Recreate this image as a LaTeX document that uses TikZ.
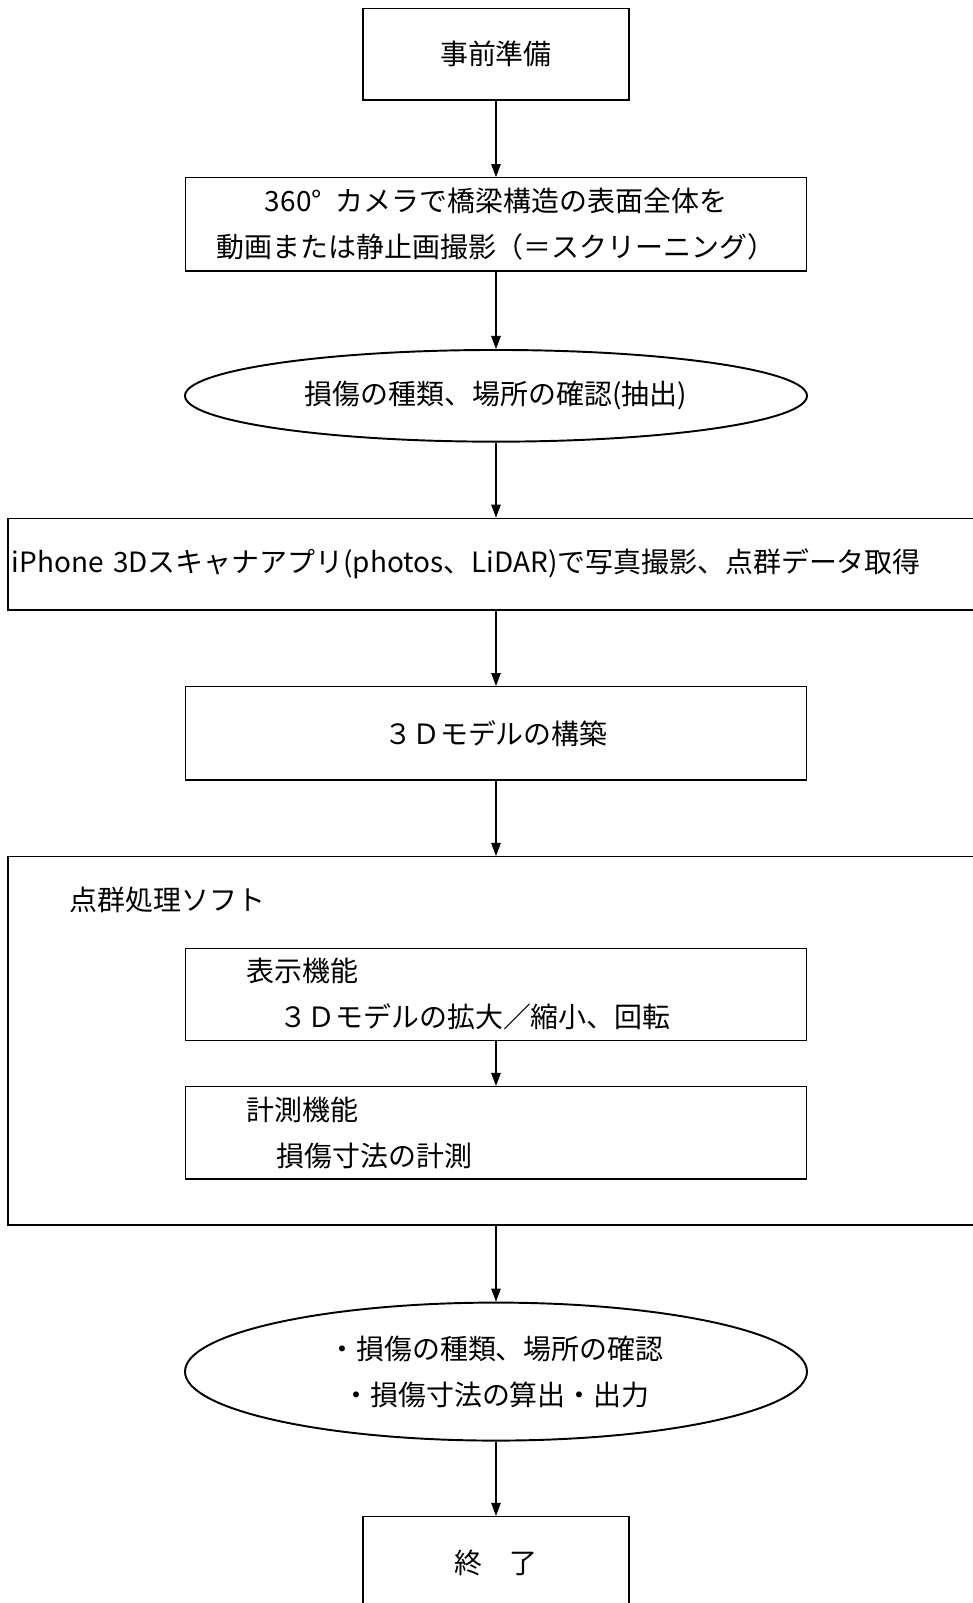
\documentclass[tikz,border=0pt]{standalone}
\usepackage{fontspec}
\setmainfont{Noto Sans CJK JP}
\usepackage{tikz}
\usetikzlibrary{arrows.meta, positioning, shapes.geometric}
\newcommand{\flowfont}{\fontsize{15.9pt}{26.2pt}\selectfont}
\tikzset{
    stepbox/.style={draw, line width=0.7pt, minimum width=12.42cm, minimum height=1.84cm, align=center, font=\flowfont},
    endbox/.style={stepbox, minimum width=5.32cm},
    widebox/.style={draw, line width=0.7pt, minimum width=19.52cm, minimum height=1.834cm, inner xsep=0.08cm, text width=19.36cm, align=left, font=\flowfont},
    funcbox/.style={draw, line width=0.7pt, minimum width=12.42cm, minimum height=1.848cm, inner xsep=1.22cm, text width=9.98cm, align=left, font=\flowfont},
    checkell/.style={draw, ellipse, line width=1.1pt, minimum width=12.44cm, align=center, font=\flowfont},
    flowarrow/.style={-{Triangle[length=7.4pt, width=5.4pt]}, line width=0.6pt},
}

\begin{document}
\begin{tikzpicture}[node distance=1.5cm]

\useasboundingbox (-9.92,1.083) rectangle (9.54,-30.977);

% ============================================================
% survey
% ============================================================
\node[endbox, minimum height=1.834cm] (prep) at (0, 0) {事前準備};

\node[stepbox, below=1.529cm of prep, minimum height=1.866cm] (cam) {360°\hspace{0.5em}カメラで橋梁構造の表面全体を\\動画または静止画撮影（＝スクリーニング）};

\node[checkell, below=1.548cm of cam, minimum height=1.834cm] (check) {損傷の種類、場所の確認(抽出)};

\node[widebox, below=1.5cm of check] (scan) {iPhone 3Dスキャナアプリ(photos、LiDAR)で写真撮影、点群データ取得};

\node[stepbox, below=1.509cm of scan, minimum height=1.866cm] (model) {３Ｄモデルの構築};

\draw[flowarrow] (prep) -- (cam);
\draw[flowarrow] (cam) -- (check);
\draw[flowarrow] (check) -- (scan);
\draw[flowarrow] (scan) -- (model);

% ============================================================
% point cloud software
% ============================================================
\node[draw, line width=0.7pt, minimum width=19.52cm, minimum height=7.366cm, below=1.509cm of model] (soft) {};
\node[font=\flowfont, anchor=west, inner sep=0pt] (softlabel) at ([xshift=1.24cm, yshift=-0.88cm]soft.north west) {点群処理ソフト};

\node[funcbox, below=1.832cm of soft.north] (disp) {表示機能\\\hspace{0.66cm}３Ｄモデルの拡大／縮小、回転};
\node[funcbox, below=0.895cm of disp] (meas) {計測機能\\\hspace{0.6cm}損傷寸法の計測};

\draw[flowarrow] (model) -- (soft);
\draw[flowarrow] (disp) -- (meas);

% ============================================================
% output
% ============================================================
\node[checkell, below=1.522cm of soft, minimum height=2.76cm] (result) {・損傷の種類、場所の確認\\・損傷寸法の算出・出力};

\node[endbox, below=1.488cm of result] (finish) {終　了};

\draw[flowarrow] (soft) -- (result);
\draw[flowarrow] (result) -- (finish);

\end{tikzpicture}
\end{document}
